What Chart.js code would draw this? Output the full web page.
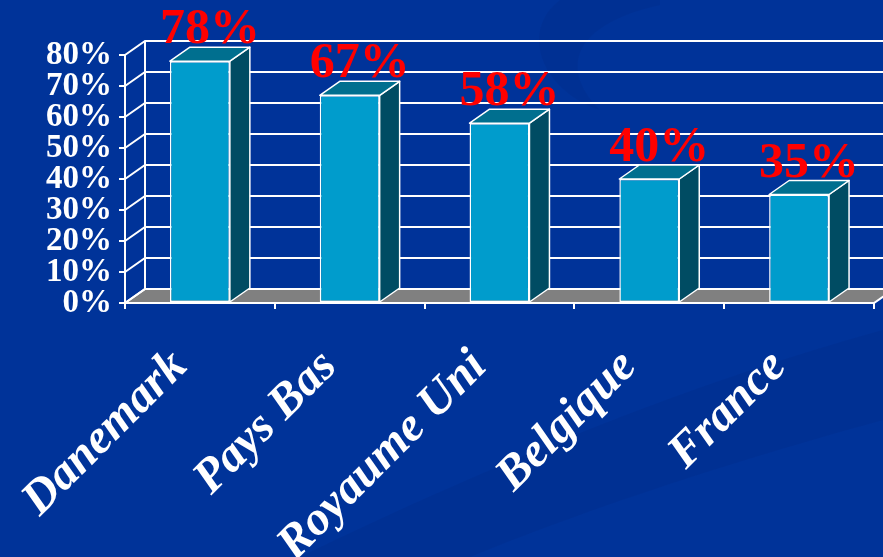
<!DOCTYPE html>
<html>
<head>
<meta charset="utf-8">
<script src="https://cdn.jsdelivr.net/npm/chart.js@4/dist/chart.umd.min.js"></script>
<style>
    html, body { margin: 0; padding: 0; background: #003399; overflow: hidden; }
    #wrap { position: relative; width: 883px; height: 557px; }
</style>
</head>
<body>
<div id="wrap"><canvas id="chart" width="883" height="557"></canvas></div>
<script>
    // values
    var countries = ['Danemark', 'Pays Bas', 'Royaume Uni', 'Belgique', 'France'];
    var shares = [78, 67, 58, 40, 35];
    var yTicks = [0, 10, 20, 30, 40, 50, 60, 70, 80];

    var DEPTH_X = 20;
    var DEPTH_Y = -14;
    var SERIF = '"Liberation Serif", "DejaVu Serif", serif';

    // soft swooshes of the slide background
    var backdrop = {
        id: 'backdrop',
        beforeDraw: function (chart) {
            var c = chart.ctx;
            c.save();
            c.fillStyle = '#003399';
            c.fillRect(0, 0, chart.width, chart.height);
            c.fillStyle = 'rgba(0, 30, 110, 0.12)';
            c.beginPath();
            c.moveTo(560, 0);
            c.bezierCurveTo(520, 30, 540, 90, 600, 110);
            c.bezierCurveTo(560, 70, 570, 25, 660, 5);
            c.lineTo(660, 0);
            c.closePath();
            c.fill();
            c.beginPath();
            c.moveTo(300, 557);
            c.bezierCurveTo(500, 460, 700, 380, 883, 330);
            c.lineTo(883, 420);
            c.bezierCurveTo(700, 470, 560, 520, 470, 557);
            c.closePath();
            c.fill();
            c.restore();
        }
    };

    // back wall, side wall and floor of the 3D box
    var box3d = {
        id: 'box3d',
        beforeDatasetsDraw: function (chart) {
            var c = chart.ctx;
            var area = chart.chartArea;
            var y = chart.scales.y;
            c.save();
            // floor
            c.fillStyle = '#808080';
            c.strokeStyle = '#ffffff';
            c.lineWidth = 2;
            c.beginPath();
            c.moveTo(area.left, area.bottom);
            c.lineTo(area.right, area.bottom);
            c.lineTo(area.right + DEPTH_X, area.bottom + DEPTH_Y);
            c.lineTo(area.left + DEPTH_X, area.bottom + DEPTH_Y);
            c.closePath();
            c.fill();
            c.stroke();
            // grid on left wall + back wall
            yTicks.forEach(function (v) {
                var py = y.getPixelForValue(v);
                c.beginPath();
                c.moveTo(area.left, py);
                c.lineTo(area.left + DEPTH_X, py + DEPTH_Y);
                c.lineTo(chart.width, py + DEPTH_Y);
                c.stroke();
            });
            c.beginPath();
            c.moveTo(area.left + DEPTH_X, y.getPixelForValue(0) + DEPTH_Y);
            c.lineTo(area.left + DEPTH_X, y.getPixelForValue(80) + DEPTH_Y);
            c.stroke();
            c.restore();
        },
        afterDatasetsDraw: function (chart) {
            var c = chart.ctx;
            var meta = chart.getDatasetMeta(0);
            c.save();
            c.strokeStyle = '#ffffff';
            c.lineWidth = 1.5;
            c.lineJoin = 'round';
            meta.data.forEach(function (bar, i) {
                var half = bar.width / 2;
                var l = bar.x - half, r = bar.x + half;
                var top = bar.y, base = bar.base;
                // side face
                c.fillStyle = '#004c63';
                c.beginPath();
                c.moveTo(r, top);
                c.lineTo(r + DEPTH_X, top + DEPTH_Y);
                c.lineTo(r + DEPTH_X, base + DEPTH_Y);
                c.lineTo(r, base);
                c.closePath();
                c.fill();
                c.stroke();
                // top face
                c.fillStyle = '#006f8f';
                c.beginPath();
                c.moveTo(l, top);
                c.lineTo(l + DEPTH_X, top + DEPTH_Y);
                c.lineTo(r + DEPTH_X, top + DEPTH_Y);
                c.lineTo(r, top);
                c.closePath();
                c.fill();
                c.stroke();
                // value label
                c.fillStyle = '#ff0000';
                c.font = 'bold 50px ' + SERIF;
                c.textAlign = 'center';
                c.textBaseline = 'alphabetic';
                c.fillText(shares[i] + '%', bar.x + DEPTH_X / 2, top + DEPTH_Y - 4);
            });
            c.restore();
        }
    };

    new Chart(document.getElementById('chart'), {
        type: 'bar',
        data: {
            labels: countries,
            datasets: [{
                data: shares,
                backgroundColor: '#009ccc',
                borderColor: '#ffffff',
                borderWidth: 1.5,
                borderSkipped: false,
                categoryPercentage: 1,
                barPercentage: 0.4
            }]
        },
        options: {
            responsive: false,
            animation: false,
            layout: { padding: { top: 55, right: 9, left: 0, bottom: 0 } },
            plugins: {
                legend: { display: false },
                tooltip: { enabled: false }
            },
            scales: {
                x: {
                    afterFit: function (s) { s.height = 254; },
                    grid: { display: true, drawOnChartArea: false, color: '#ffffff', tickLength: 6, lineWidth: 2 },
                    border: { display: true, color: '#ffffff', width: 2 },
                    ticks: {
                        color: '#ffffff',
                        autoSkip: false,
                        minRotation: 45,
                        maxRotation: 45,
                        padding: 30,
                        labelOffset: -20,
                        font: { family: SERIF, size: 48, weight: 'bold', style: 'italic' }
                    }
                },
                y: {
                    min: 0,
                    max: 80,
                    afterFit: function (s) { s.width = 125; },
                    grid: { display: true, drawOnChartArea: false, color: '#ffffff', tickLength: 6, lineWidth: 2 },
                    border: { display: true, color: '#ffffff', width: 2 },
                    ticks: {
                        stepSize: 10,
                        autoSkip: false,
                        color: '#ffffff',
                        padding: 7,
                        font: { family: SERIF, size: 33, weight: 'bold' },
                        callback: function (v) { return v + '%'; }
                    }
                }
            }
        },
        plugins: [backdrop, box3d]
    });
</script>
</body>
</html>
